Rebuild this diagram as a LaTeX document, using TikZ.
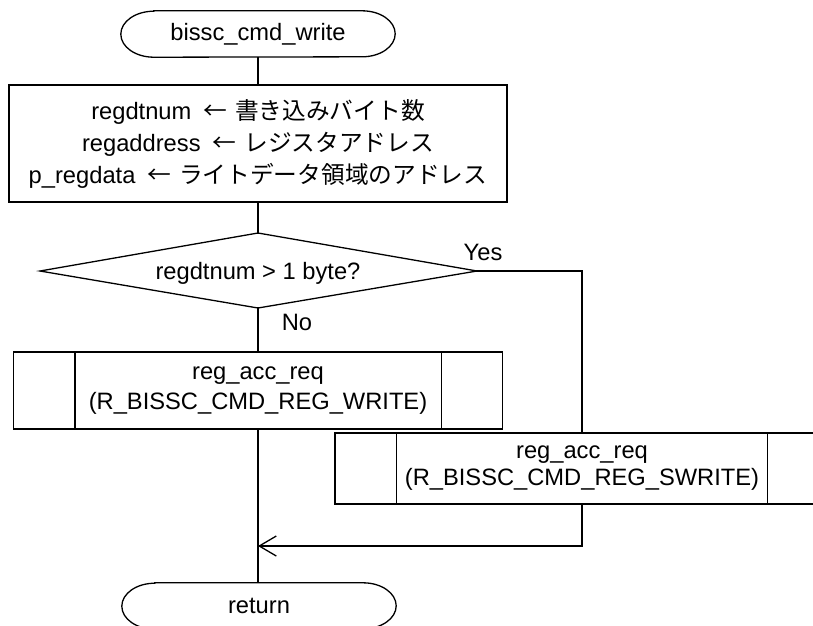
\documentclass[tikz,border=0pt]{standalone}
\usepackage{fontspec}
\setmainfont{Liberation Sans}
\newfontfamily\jpfont{Noto Sans CJK JP}
\usetikzlibrary{arrows.meta}

% outline of a start/end terminator around an invisible node
\newcommand\termoutline[1]{%
  \draw[flow] ([xshift=33pt]#1.north west) -- ([xshift=-33pt]#1.north east)
    arc[start angle=90,end angle=-90,x radius=33pt,y radius=23pt]
    -- ([xshift=33pt]#1.south west)
    arc[start angle=270,end angle=90,x radius=33pt,y radius=23pt] -- cycle;}
% inner side bars of a predefined-process box
\newcommand\subbars[2]{%
  \draw[flow] ([xshift=#2]#1.north west) -- ([xshift=#2]#1.south west);
  \draw[flow] ([xshift=-#2]#1.north east) -- ([xshift=-#2]#1.south east);}
% assignment arrow with its surrounding gaps
\newcommand\assignto{\hspace{12pt}{\jpfont ←}\hspace{8pt}}

\tikzset{
  flow/.style={line width=1.3pt, line cap=rect, line join=miter},
  txt/.style={font=\fontsize{23.7}{30}\selectfont},
  termnode/.style={txt, inner sep=0pt, minimum width=274pt, minimum height=46pt},
  procbox/.style={txt, draw, line width=1.3pt, rectangle, inner sep=0pt, align=center},
  lbl/.style={txt, inner sep=0pt},
  mergearrow/.style={flow, -{Straight Barb[length=17pt,width=20pt,line width=1.3pt]}}
}

\begin{document}
\begin{tikzpicture}[x=1pt,y=-1pt]
\useasboundingbox (0,0) rectangle (813,625);
\clip (0,0) rectangle (813,625);

% terminators
\node[termnode] (start) at (258,34) {bissc\_cmd\_write};
\termoutline{start}
\node[termnode] (ret) at (259,606) {return};
\termoutline{ret}

% initialisation
\node[procbox, minimum width=498pt, minimum height=117pt,
      font=\fontsize{23.7}{32}\selectfont] (init) at (258,143.5)
  {regdtnum\assignto{\jpfont 書き込みバイト数}\\
   regaddress\assignto{\jpfont レジスタアドレス}\\
   p\_regdata\assignto{\jpfont ライトデータ領域のアドレス}};

% decision
\node[lbl] (dec) at (258,273) {regdtnum > 1 byte?};
\coordinate (dectop) at (258,233);
\coordinate (decbot) at (258,308);
\coordinate (decleft) at (40,271);
\coordinate (decright) at (477,271);
\draw[flow] (dectop) -- (decright) -- (decbot) -- (decleft) -- cycle;
\node[lbl] (yes) at (483,252) {Yes};
\node[lbl] (no) at (297,322) {No};

% register access calls
\node[procbox, minimum width=489pt, minimum height=77pt] (wr) at (258,390.5)
  {reg\_acc\_req\\(R\_BISSC\_CMD\_REG\_WRITE)};
\subbars{wr}{62pt}
\node[procbox, minimum width=494pt, minimum height=71pt,
      font=\fontsize{23.7}{27}\selectfont] (sw) at (582,468.5)
  {reg\_acc\_req\\(R\_BISSC\_CMD\_REG\_SWRITE)};
\subbars{sw}{62pt}

\coordinate (yesturn) at (582,271);
\coordinate (swout) at (582,546);
\coordinate (merge) at (258,546);

% connectors
\draw[flow] (start.south) -- (init.north);
\draw[flow] (init.south) -- (dectop);
\draw[flow] (decbot) -- (wr.north);
\draw[flow] (wr.south) -- (ret.north -| wr.south);
\draw[flow] (decright) -- (yesturn) -- (sw.north);
\draw[flow] (sw.south) -- (swout);
\draw[mergearrow] (swout) -- (merge);
\end{tikzpicture}
\end{document}
